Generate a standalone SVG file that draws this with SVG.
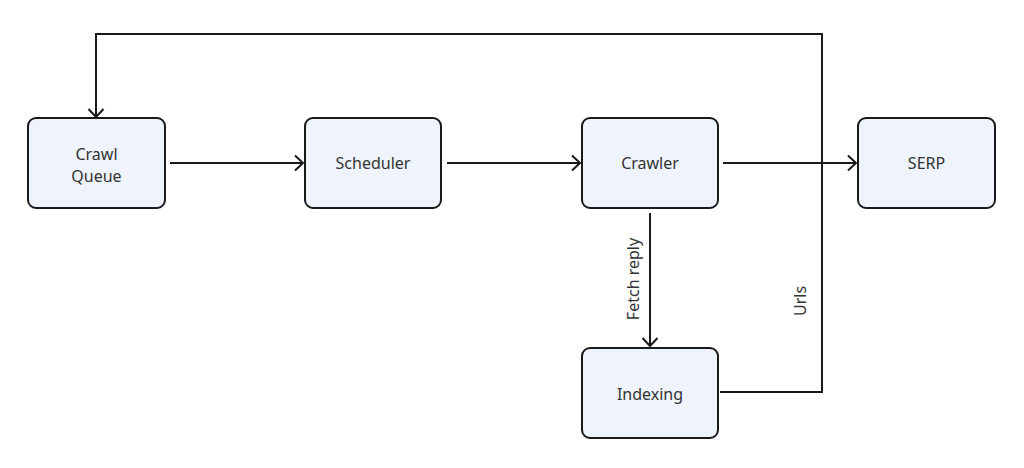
<svg xmlns="http://www.w3.org/2000/svg" width="1024" height="468" viewBox="0 0 1024 468">
<defs>
<style>
.box{fill:#eef3fc;stroke:#1a1a1a;stroke-width:2}
.lbl{font-family:"Noto Sans","Liberation Sans",sans-serif;font-size:16px;fill:#333;text-anchor:middle}
.edge{fill:none;stroke:#1a1a1a;stroke-width:2}
</style>
<marker id="arr" markerWidth="14" markerHeight="18" refX="11" refY="9" orient="auto" markerUnits="userSpaceOnUse">
<path d="M3,1.5 L11,9 L3,16.5" fill="none" stroke="#1a1a1a" stroke-width="2"/>
</marker>
</defs>
<rect width="1024" height="468" fill="#ffffff"/>
<g id="connectors">
<path class="edge" d="M720,392 H822 V34 H96 V117" marker-end="url(#arr)"/>
<path class="edge" d="M170,163 H303" marker-end="url(#arr)"/>
<path class="edge" d="M447,163 H580" marker-end="url(#arr)"/>
<path class="edge" d="M723,163 H856" marker-end="url(#arr)"/>
<path class="edge" d="M650,213 V346" marker-end="url(#arr)"/>
<text class="lbl" transform="translate(639,279) rotate(-90)">Fetch reply</text>
<text class="lbl" transform="translate(806,301) rotate(-90)">Urls</text>
</g>
<g id="crawl-queue">
<rect class="box" x="28" y="118" width="137" height="90" rx="8"/>
<text class="lbl" x="96.5" y="160">Crawl</text>
<text class="lbl" x="96.5" y="182">Queue</text>
</g>
<g id="scheduler">
<rect class="box" x="305" y="118" width="136" height="90" rx="8"/>
<text class="lbl" x="373" y="169">Scheduler</text>
</g>
<g id="crawler">
<rect class="box" x="582" y="118" width="136" height="90" rx="8"/>
<text class="lbl" x="650" y="169">Crawler</text>
</g>
<g id="serp">
<rect class="box" x="858" y="118" width="137" height="90" rx="8"/>
<text class="lbl" x="926.5" y="169">SERP</text>
</g>
<g id="indexing">
<rect class="box" x="582" y="348" width="136" height="90" rx="8"/>
<text class="lbl" x="650" y="400">Indexing</text>
</g>
</svg>
